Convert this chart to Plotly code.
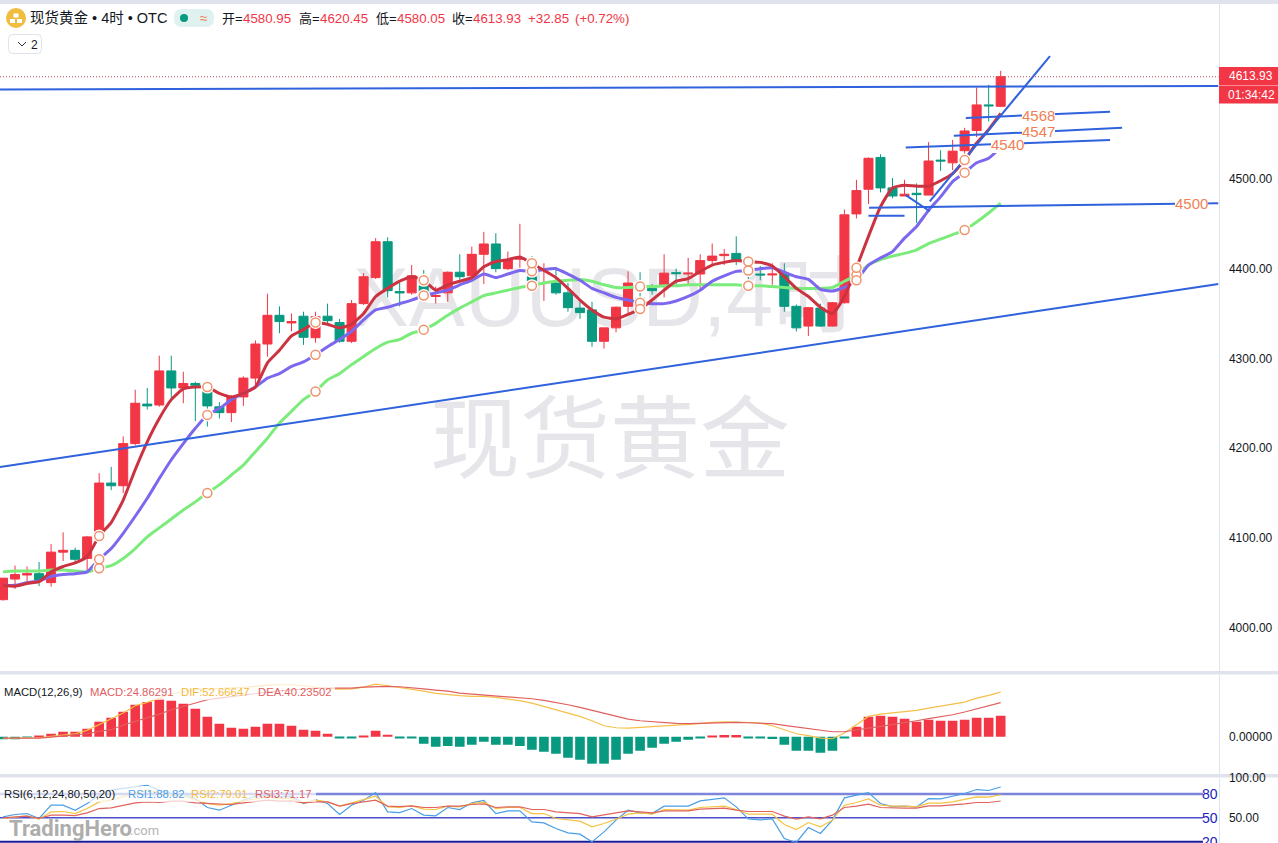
# XAUUSD 4h chart with MA lines, MACD and RSI panes
import plotly.graph_objects as go

opens = [4031, 4054, 4058.5, 4060, 4050, 4084, 4086, 4077, 4105, 4161, 4158, 4205, 4249, 4248, 4286, 4267, 4272, 4263, 4246, 4239.5, 4257, 4278, 4316, 4348, 4339.5, 4347, 4323, 4347, 4340, 4319, 4361, 4390, 4430, 4374.4, 4373, 4381, 4369, 4373, 4396, 4392, 4416, 4427.5, 4400, 4410.5, 4391, 4398.5, 4384, 4373, 4356, 4354, 4319, 4334, 4358, 4367, 4378, 4382, 4395.5, 4394, 4394, 4409, 4414.5, 4417, 4401, 4394, 4393, 4395, 4358, 4336, 4356, 4336, 4362, 4461, 4488.5, 4524, 4490, 4481, 4484, 4482, 4521, 4518, 4531.5, 4554, 4582.5, 4580.95]
highs = [4055, 4069, 4068, 4073, 4093, 4106, 4089, 4102, 4172, 4179, 4213, 4265, 4267, 4303, 4303, 4285, 4274, 4270, 4251, 4259, 4280, 4320, 4372, 4358, 4350, 4352, 4352, 4361, 4344, 4365, 4395, 4434, 4435, 4384, 4404, 4398.5, 4380, 4397, 4416, 4424.5, 4441, 4439.5, 4419, 4450, 4414, 4406, 4402, 4384, 4363, 4363, 4334, 4358, 4397, 4396, 4383, 4416, 4400, 4412, 4416, 4428, 4422, 4436, 4412, 4403, 4406, 4406, 4360, 4357, 4361, 4363, 4466, 4499, 4524, 4527.5, 4501, 4499, 4495, 4541, 4532, 4543.5, 4557, 4602, 4605, 4620.45]
lows = [4030, 4043, 4050, 4046, 4045.5, 4074, 4073, 4064, 4101, 4153, 4150, 4203, 4243, 4246, 4252, 4250, 4230, 4224, 4233, 4229, 4247, 4268, 4302, 4328, 4330, 4315, 4317.5, 4339, 4317.5, 4317, 4359.5, 4388.5, 4368, 4358, 4371, 4365, 4361, 4363, 4387, 4387, 4383, 4396, 4398.5, 4401, 4384, 4364, 4371, 4352, 4344, 4313, 4311, 4329, 4349, 4352, 4371, 4368, 4382, 4382, 4376, 4404, 4404, 4404, 4388.5, 4387, 4382, 4352, 4330, 4325, 4335, 4335.5, 4361, 4456, 4472, 4485, 4478.5, 4481, 4451, 4482, 4509, 4510, 4528, 4546.5, 4564, 4580.05]
closes = [4055, 4059, 4060, 4053, 4084, 4086, 4076, 4101, 4161, 4158, 4205, 4250, 4247, 4286, 4267, 4272, 4270, 4247, 4239.5, 4257, 4278, 4316, 4348, 4341, 4341, 4323.5, 4346.5, 4342, 4319, 4361, 4391, 4430, 4375.5, 4373, 4392, 4374, 4370, 4396, 4391, 4416, 4427.5, 4400, 4410, 4412, 4386, 4400, 4373, 4356.5, 4351, 4319, 4334, 4357, 4384, 4362, 4375.5, 4395, 4394.5, 4395, 4409, 4414, 4416, 4408, 4395, 4393, 4394, 4358, 4334, 4356.5, 4336, 4362, 4460, 4487, 4523, 4490, 4481, 4483, 4482.5, 4520, 4520, 4531, 4553.5, 4582.5, 4581.5, 4613.93]

ma5 = [4047, 4046, 4049, 4051, 4062, 4068, 4072, 4079, 4102, 4117, 4142, 4176, 4207, 4233, 4254, 4266, 4268, 4268, 4261, 4257, 4261, 4268, 4295, 4309, 4325, 4332, 4340, 4338, 4334, 4338, 4350, 4369, 4378, 4386, 4391, 4387, 4376, 4382, 4386, 4390, 4402, 4408, 4410, 4413, 4406, 4398, 4390, 4378, 4365, 4354, 4346, 4344, 4349, 4355, 4365, 4376, 4386, 4389, 4397, 4404, 4407, 4409, 4408, 4407, 4403, 4391, 4378, 4369, 4357, 4350, 4369, 4401, 4436, 4469, 4490, 4493, 4492, 4492, 4498, 4506, 4521, 4540, 4555, 4573]
ma10 = [4047, 4047, 4050, 4052, 4057, 4059, 4060, 4062, 4076, 4088, 4105, 4124, 4144, 4166, 4187, 4205, 4222, 4237, 4244, 4254, 4261, 4268, 4278, 4283, 4291, 4296, 4304, 4313, 4321, 4330, 4343, 4354, 4357, 4361, 4365, 4370, 4373, 4376, 4382, 4387, 4394, 4390, 4394, 4398, 4397, 4399, 4400, 4394, 4387, 4378, 4373, 4368, 4365, 4362, 4361, 4361, 4364, 4369, 4376, 4386, 4392, 4397, 4398, 4400, 4401, 4396, 4391, 4388, 4377, 4375, 4379, 4387, 4404, 4412, 4419, 4434, 4447, 4465, 4480, 4497, 4507, 4518, 4523, 4535]
ma20 = [4062, 4063, 4063, 4063, 4064, 4064, 4063, 4062, 4066, 4069, 4077, 4088, 4101, 4111, 4121, 4131, 4140, 4150, 4159, 4170, 4181, 4196, 4211, 4228, 4241, 4254, 4263, 4276, 4283, 4293, 4302, 4311, 4318, 4321, 4328, 4332, 4339, 4348, 4356, 4363, 4370, 4373, 4376, 4379, 4381, 4384, 4386, 4387, 4388, 4386, 4382, 4379, 4379, 4380, 4380, 4381, 4381, 4382, 4382, 4382, 4382, 4382, 4381, 4381, 4380, 4379, 4378, 4378, 4378, 4379, 4386, 4393, 4404, 4410, 4414, 4417, 4421, 4428, 4433, 4438, 4443, 4452, 4462, 4473]

macd_hist = [-3, -3, -0.5, 0.3, 3.5, 5.9, 5.9, 9.5, 17.7, 22.5, 29.5, 37.8, 41, 44.9, 42.6, 39, 33.1, 23.6, 15.4, 10.6, 9.5, 11.8, 15.4, 15.4, 13, 8.3, 7.1, 3.5, -1.6, -1.6, 1.2, 7.1, 2.4, -1.6, -1.6, -8.3, -11.8, -11, -11.8, -9.5, -5.9, -9.5, -9.5, -11, -15.4, -17.7, -20.1, -24.8, -27.2, -31.9, -31.9, -27.2, -20.1, -16.5, -13, -8.3, -5.9, -3.5, -1.6, 1.2, 2, 2, -1.6, -1.6, -2.8, -9.5, -16.5, -16.5, -18.9, -16.5, -1.6, 11.8, 23.6, 24.8, 23.6, 21.3, 17.7, 20.1, 18.9, 18.9, 20.1, 22.5, 22.5, 24.86]
dif = [-2, -2, -1.6, -1.2, 0.4, 2, 3.5, 7.5, 14.2, 20.9, 28, 36.6, 40.6, 45.7, 50.8, 53.2, 55.6, 56.3, 56.7, 57.1, 58.3, 59.5, 61.1, 61.5, 61.5, 60.3, 58.7, 56.7, 56.3, 56.7, 58.7, 62.3, 60.3, 58.3, 56.3, 54, 51.2, 49.6, 48.5, 47.7, 47.7, 46.5, 44.9, 42.6, 39.8, 35.9, 32.7, 28.8, 24, 18.9, 13, 10.6, 10.2, 11, 11.8, 12.2, 13, 13.8, 15.4, 16.9, 17.7, 17.3, 16.5, 16.2, 13, 8.3, 3.5, 1.2, -1.6, -2.4, 4.3, 14.2, 24, 26.8, 28.4, 29.9, 31.1, 33.9, 35.9, 38.6, 41, 45.7, 48.9, 52.67]
dea = [-1.6, -1.6, -1.6, -1.6, -0.4, 0.8, 1.6, 3.5, 6.3, 8.3, 13.8, 18.1, 22.1, 26.8, 31.9, 35.9, 40.6, 43.7, 45.7, 47.7, 49.3, 50.8, 52.8, 54.4, 55.6, 56.3, 57.1, 57.5, 57.5, 57.5, 58.7, 59.5, 59.5, 59.1, 58.3, 56.7, 55.2, 54, 51.6, 50.4, 49.6, 48.5, 47.3, 46.5, 44.9, 42.9, 40.6, 37.8, 34.7, 31.1, 27.6, 24, 20.9, 18.9, 17.7, 16.2, 15.8, 15.4, 15.8, 16.2, 16.5, 16.9, 16.5, 16.2, 15.4, 13.4, 11.4, 9.5, 7.5, 5.9, 5.9, 8.3, 10.2, 12.2, 14.2, 16.2, 18.9, 21.3, 23.6, 26, 29.2, 33.1, 36.6, 40.24]

rsi1 = [51.3, 54.2, 55.4, 49.2, 65.9, 65.9, 59.6, 68, 78.5, 84.8, 87, 89, 91, 84.8, 80.6, 79.7, 74.3, 63, 59.6, 65.9, 72.2, 77.2, 78.5, 76.4, 77.2, 68, 73, 68, 54.2, 65.9, 72.2, 81.8, 57.5, 56.7, 61.7, 53.4, 52.5, 63, 60.5, 68.9, 71.8, 55.4, 58.8, 58.8, 45, 43.7, 36.6, 31.1, 29.5, 19.8, 32.4, 47.1, 59.6, 56.3, 55.4, 64.7, 64.7, 64.7, 71.4, 73.5, 75.1, 63.8, 48.7, 47.5, 48.7, 24, 19, 37.8, 30.3, 47.1, 75.1, 78.5, 81.8, 68, 64.2, 64.7, 63.8, 74.3, 73.9, 77.2, 80.6, 85.6, 84.4, 88.82]
rsi2 = [49.2, 51.3, 52.5, 48.3, 57.5, 58, 55.4, 61.7, 70.1, 72.2, 76.4, 80.6, 84.8, 81.4, 78.5, 77.2, 73, 68, 65.9, 68, 71.4, 74.3, 76.4, 74.3, 74.3, 68.9, 72.2, 70.1, 64.7, 68.9, 73, 77.2, 63.8, 63, 65.1, 60.9, 60.5, 64.7, 63.8, 68, 69.7, 61.7, 63, 63, 55.4, 55.4, 49.2, 47.1, 45.8, 38.7, 42.9, 48.3, 54.6, 56.3, 54.6, 60.5, 59.6, 59.6, 63, 63.8, 64.7, 60.5, 54.6, 54.6, 54.6, 41.6, 35.3, 44.1, 38.7, 47.1, 65.9, 69.3, 73.9, 65.9, 64.7, 64.7, 63.8, 68.4, 68.4, 70.1, 73, 76.4, 76, 79.01]
rsi3 = [50, 50.8, 52.1, 49.2, 53.4, 53.4, 52.9, 56.3, 61.7, 62.6, 65.9, 68.9, 70.1, 69.3, 71, 71, 68.9, 68, 68, 66.8, 68.9, 71, 72.2, 71, 71.4, 68.9, 70.1, 70.1, 64.7, 68, 70.1, 72.2, 64.7, 64.2, 65.1, 63, 63, 64.7, 64.7, 66.8, 67.6, 63, 63.8, 63.8, 60.5, 60.5, 57.5, 56.3, 55.4, 51.3, 53.4, 56.3, 58.8, 57.5, 56.3, 58.8, 58.8, 58.8, 60.9, 61.7, 62.2, 59.6, 58, 58, 58, 52.1, 48.3, 51.3, 48.7, 53.4, 63, 64.7, 67.2, 63, 62.2, 62.2, 62.2, 65.1, 65.1, 65.9, 67.6, 69.3, 69.3, 71.17]
rsi_levels = [80, 50, 20]

# hand drawn lines: bar index / price pairs
trend_x = [[-0.25, 101.12], [-0.25, 101.12], [77.1, 87.1], [80.1, 92.1], [79.1, 93.1], [75.1, 92.1], [72.05, 101.12], [72, 75], [75.1, 77.1]]
trend_y = [[4599.8, 4603.7], [4179, 4383], [4475, 4637], [4568, 4575], [4548, 4557], [4535, 4543.5], [4468, 4473], [4459, 4459], [4482, 4464]]

price_ticks = [4000, 4100, 4200, 4300, 4400, 4500]
price_labels = ["4000.00", "4100.00", "4200.00", "4300.00", "4400.00", "4500.00"]
x = list(range(len(closes)))
marker_idx = list(range(8, len(closes), 9))

UP = "#f23645"
DOWN = "#089981"
BLUE = "#2f62dc"
ORANGE = "#f07f55"
W, H = 1278, 843
FONT = "Liberation Sans, Noto Sans CJK SC, sans-serif"


def px(v):
    return v / W


def py(v):
    return 1 - v / H


fig = go.Figure()

fig.add_trace(go.Candlestick(
    x=x, open=opens, high=highs, low=lows, close=closes, xaxis="x", yaxis="y",
    increasing=dict(line=dict(color=UP, width=1), fillcolor=UP),
    decreasing=dict(line=dict(color=DOWN, width=1), fillcolor=DOWN),
    whiskerwidth=0, hoverinfo="skip", showlegend=False))

for series, color in [(ma20, "#7bec7b"), (ma10, "#7b68ee"), (ma5, "#cc3340")]:
    fig.add_trace(go.Scatter(x=x, y=series, mode="lines", showlegend=False, hoverinfo="skip",
                             line=dict(color=color, width=3, shape="spline", smoothing=0.5)))

for tx, ty in zip(trend_x, trend_y):
    fig.add_trace(go.Scatter(x=tx, y=ty, mode="lines", showlegend=False, hoverinfo="skip",
                             line=dict(color=BLUE, width=2)))

# small circles on the MA lines, white halo makes the little gaps in the line
for series in (ma20, ma10, ma5):
    mx = [x[i] for i in marker_idx]
    my = [series[i] for i in marker_idx]
    fig.add_trace(go.Scatter(x=mx, y=my, mode="markers", showlegend=False, hoverinfo="skip",
                             marker=dict(size=13, color="white")))
for series in (ma20, ma10, ma5):
    mx = [x[i] for i in marker_idx]
    my = [series[i] for i in marker_idx]
    fig.add_trace(go.Scatter(x=mx, y=my, mode="markers", showlegend=False, hoverinfo="skip",
                             marker=dict(size=9, color="white", line=dict(color="#f0926c", width=1.5))))

# macd pane
fig.add_trace(go.Bar(x=x, y=macd_hist, width=0.8, xaxis="x2", yaxis="y2", showlegend=False, hoverinfo="skip",
                     marker=dict(color=[UP if v > 0 else DOWN for v in macd_hist], line=dict(width=0))))
fig.add_trace(go.Scatter(x=x, y=dif, mode="lines", xaxis="x2", yaxis="y2", showlegend=False, hoverinfo="skip",
                         line=dict(color="#f5c04a", width=1.2)))
fig.add_trace(go.Scatter(x=x, y=dea, mode="lines", xaxis="x2", yaxis="y2", showlegend=False, hoverinfo="skip",
                         line=dict(color="#e0605f", width=1.2)))

# rsi pane
for level, color, width in zip(rsi_levels, ["#7c84dc", "#4a50c8", "#1a1a9a"], [2.5, 1.5, 2]):
    fig.add_trace(go.Scatter(x=[-0.25, 99.83], y=[level, level], mode="lines", xaxis="x3", yaxis="y3",
                             showlegend=False, hoverinfo="skip", line=dict(color=color, width=width)))
for series, color in [(rsi1, "#4a9ee6"), (rsi2, "#f5c342"), (rsi3, "#e0635f")]:
    fig.add_trace(go.Scatter(x=x, y=series, mode="lines", xaxis="x3", yaxis="y3", showlegend=False, hoverinfo="skip",
                             line=dict(color=color, width=1.2)))

shapes = []


def rect(x0, y0, x1, y1, color, layer="above"):
    shapes.append(dict(type="rect", xref="paper", yref="paper", x0=px(x0), x1=px(x1), y0=py(y0), y1=py(y1),
                       fillcolor=color, line=dict(width=0), layer=layer))


def rounded(x0, y0, x1, y1, r, fill, border=None):
    p = (f"M {px(x0 + r)} {py(y0)} L {px(x1 - r)} {py(y0)} Q {px(x1)} {py(y0)} {px(x1)} {py(y0 + r)} "
         f"L {px(x1)} {py(y1 - r)} Q {px(x1)} {py(y1)} {px(x1 - r)} {py(y1)} "
         f"L {px(x0 + r)} {py(y1)} Q {px(x0)} {py(y1)} {px(x0)} {py(y1 - r)} "
         f"L {px(x0)} {py(y0 + r)} Q {px(x0)} {py(y0)} {px(x0 + r)} {py(y0)} Z")
    shapes.append(dict(type="path", xref="paper", yref="paper", path=p, fillcolor=fill,
                       line=dict(color=border, width=1) if border else dict(width=0)))


# separators between the panes
rect(0, 0, W, 4, "#e0e3eb", "below")
rect(0, 671, W, 674.5, "#e0e3eb", "below")
rect(0, 774, W, 777.5, "#e0e3eb", "below")

# faded strip behind the pane headers
rect(0, 684, 335, 700, "rgba(255,255,255,0.7)")
rect(0, 786, 316, 802, "rgba(255,255,255,0.7)")

# big watermark under the candles, shape labels are the only text that can go below
for text, cx, cy, size in [("XAUUSD,4时", 605, 289, 84), ("现货黄金", 610, 431, 90)]:
    shapes.append(dict(type="rect", xref="paper", yref="paper", layer="below",
                       x0=px(cx - 300), x1=px(cx + 300), y0=py(cy + 60), y1=py(cy - 60),
                       fillcolor="rgba(0,0,0,0)", line=dict(width=0),
                       label=dict(text=text, textposition="middle center",
                                  font=dict(size=size, color="#e6e6ea", family=FONT))))

# last price dotted line and the red tag
shapes.append(dict(type="line", xref="paper", yref="y", x0=0, x1=px(1218.5), y0=closes[-1], y1=closes[-1],
                   line=dict(color="#b5505c", width=1, dash="1px,2px")))
rect(1219, 67, W, 103.5, UP)
rect(1219, 85, W, 86, "#f78a94")

# header icon and badges
shapes.append(dict(type="circle", xref="paper", yref="paper", x0=px(6), x1=px(26), y0=py(28), y1=py(8),
                   fillcolor="#f0bd3f", line=dict(width=0)))
rect(13.5, 13.5, 18.5, 17.5, "white")
rect(10, 19, 15, 23, "white")
rect(17, 19, 22, 23, "white")
rounded(174, 9, 214, 27, 8, "#e0f2ef")
shapes.append(dict(type="circle", xref="paper", yref="paper", x0=px(180), x1=px(188), y0=py(22), y1=py(14),
                   fillcolor=DOWN, line=dict(width=0)))
rounded(8.5, 34.5, 41.5, 53.5, 4, "white", "#e0e3eb")
shapes.append(dict(type="path", xref="paper", yref="paper",
                   path=f"M {px(18)} {py(42)} L {px(22)} {py(46)} L {px(26)} {py(42)}",
                   line=dict(color="#333333", width=1)))

annotations = []


def label(text, x0, y0, size, color, anchor="left", family=FONT, bg=None):
    a = dict(text=text, xref="paper", yref="paper", x=px(x0), y=py(y0), xanchor=anchor, yanchor="middle",
             showarrow=False, font=dict(size=size, color=color, family=family), borderpad=0, borderwidth=0)
    if bg:
        a["bgcolor"] = bg
    annotations.append(a)


label("现货黄金 • 4时 • OTC", 30, 18, 14.5, "#131722")
label("≈", 204, 18, 14, ORANGE, "center")
for text, xpos in [("开=", 222), ("高=", 299), ("低=", 376), ("收=", 452)]:
    label(text, xpos, 18.5, 13, "#131722")
for text, xpos in [("4580.95", 243), ("4620.45", 320), ("4580.05", 397), ("4613.93", 473),
                   ("+32.85", 528), ("(+0.72%)", 575)]:
    label(text, xpos, 18.5, 13.3, UP)
label("2", 34, 44.5, 12, "#131722", "center")

label("4613.93", 1251, 76.5, 12, "white", "center")
label("01:34:42", 1251, 94.5, 12, "white", "center")

label("MACD(12,26,9)", 4, 692, 11.3, "#131722")
label("MACD:24.86291", 90, 692, 11.3, "#e0605f")
label("DIF:52.66647", 181, 692, 11.3, "#f5b93a")
label("DEA:40.23502", 258, 692, 11.3, "#e0605f")

label("RSI(6,12,24,80,50,20)", 4, 794, 11.3, "#131722")
label("RSI1:88.82", 128, 794, 11.3, "#4a9ee6")
label("RSI2:79.01", 191, 794, 11.3, "#f5b93a")
label("RSI3:71.17", 255, 794, 11.3, "#e0605f")

for level in rsi_levels:
    annotations.append(dict(text=str(level), xref="paper", yref="y3", x=px(1220), y=level, xanchor="right",
                            yanchor="middle", showarrow=False, font=dict(size=14, color="#2222bb", family=FONT)))

for text, cx, cy in [("4568", 1038, 115.5), ("4547", 1038, 132), ("4540", 1008, 144), ("4500", 1191, 203)]:
    label(text, cx, cy, 15, ORANGE, "center", bg="white")

label("<b>TradingHero</b>", 9, 828, 22, "#adadad", family="Roboto, sans-serif")
label(".com", 130, 830, 13, "#b5b5b5", family="Roboto, sans-serif")

x_common = dict(range=[-0.25, 101.12], domain=[0, px(1218.5)], showgrid=False, zeroline=False,
                showticklabels=False, ticks="", showline=False, rangeslider=dict(visible=False))
y_common = dict(side="right", showgrid=False, zeroline=False, ticks="outside", ticklen=7,
                tickcolor="rgba(0,0,0,0)", showline=True, linecolor="#e0e3eb", linewidth=1, automargin=False,
                tickfont=dict(size=12, color="#131722", family=FONT))

fig.update_layout(
    width=W, height=H,
    margin=dict(l=0, r=0, t=0, b=0, pad=0, autoexpand=False),
    paper_bgcolor="white", plot_bgcolor="white",
    showlegend=False, dragmode=False, boxgap=0.25, boxgroupgap=0,
    xaxis=dict(anchor="y", **x_common),
    xaxis2=dict(anchor="y2", matches="x", **x_common),
    xaxis3=dict(anchor="y3", matches="x", **x_common),
    yaxis=dict(anchor="x", domain=[py(671), py(4)], range=[3951.5, 4695], tickvals=price_ticks,
               ticktext=price_labels, **y_common),
    yaxis2=dict(anchor="x2", domain=[py(774), py(674.5)], range=[-44.1, 73.6], tickvals=[0],
                ticktext=["0.00000"], **y_common),
    yaxis3=dict(anchor="x3", domain=[0, py(777.5)], range=[18.36, 100.75], tickvals=[100, 50],
                ticktext=["100.00", "50.00"], **y_common),
    shapes=shapes, annotations=annotations,
)

fig.write_html("out.html", config=dict(displayModeBar=False),
               post_script="document.body.style.margin='0';document.body.style.overflow='hidden';")
